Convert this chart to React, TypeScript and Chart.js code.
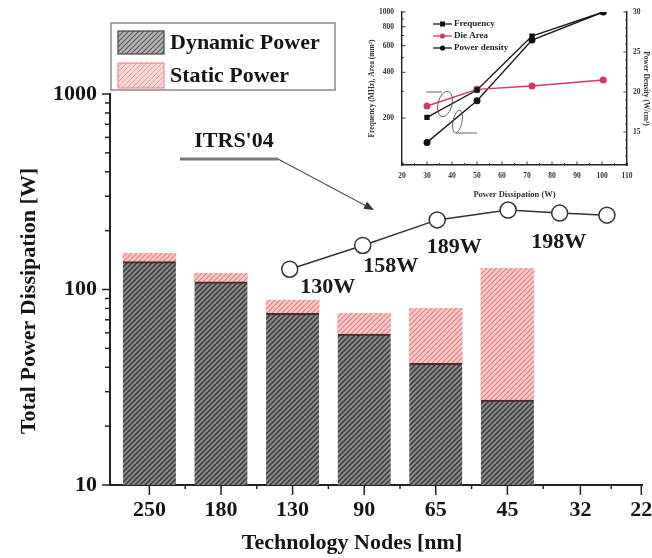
import React, { useEffect, useRef } from 'react';
import { Chart, registerables } from 'chart.js';

Chart.register(...registerables);

const FONT = '"Liberation Serif", "Times New Roman", serif';

// ---------- main chart data ----------
const nodeLabels = ['250', '180', '130', '90', '65', '45', '32', '22'];
const nodePositions = [0, 1, 2, 3, 4, 5, 6.02, 6.87];
const barNodePositions = [0, 1, 2, 3, 4, 5];
const dynamicPower = [138.8, 109.6, 75.5, 59.2, 41.9, 27.2];
const staticPower = [14.4, 11.4, 12.9, 16.3, 38.2, 101.1];
const itrsPositions = [1.96, 2.98, 4.02, 5.01, 5.73, 6.39];
const itrsPower = [127, 168, 227, 255, 246, 240];
const itrsLabels = ['130W', '158W', '189W', '198W'];
const itrsLabelPoints = [0, 1, 2, 4];
const yTickValues = [10, 100, 1000];
const yMinorTicks = [20, 30, 40, 50, 60, 70, 80, 90, 200, 300, 400, 500, 600, 700, 800, 900];
const xMinorTicks = [0.5, 1.5, 2.5, 3.5, 4.5, 5.5, 6.45];

// ---------- inset data ----------
const insetPowerW = [30, 50, 72, 100.5];
const insetFrequency = [202, 306, 694, 1000];
const insetDieArea = [240, 309, 325, 356];
const insetPowerDensity = [13.7, 18.9, 26.5, 30];
const insetXTicks = [20, 30, 40, 50, 60, 70, 80, 90, 100, 110];
const insetXMinor = [25, 35, 45, 55, 65, 75, 85, 95, 105];
const insetLeftTicks = [200, 400, 600, 800, 1000];
const insetLeftMinor = [100, 300, 500, 700, 900];
const insetRightTicks = [15, 20, 25, 30];
const insetRightMinor = [11, 12, 13, 14, 16, 17, 18, 19, 21, 22, 23, 24, 26, 27, 28, 29];

// label offsets (style, relative to their data points)
const itrsLabelOffsets = [[38, 18], [28, 21], [17, 27], [-1, 29]];

function makeHatch(ctx: CanvasRenderingContext2D, bg: string, fg: string, size: number, lw: number) {
  const c = document.createElement('canvas');
  c.width = size;
  c.height = size;
  const g = c.getContext('2d') as CanvasRenderingContext2D;
  g.fillStyle = bg;
  g.fillRect(0, 0, size, size);
  g.strokeStyle = fg;
  g.lineWidth = lw;
  g.beginPath();
  g.moveTo(-1, size + 1);
  g.lineTo(size + 1, -1);
  g.moveTo(-1, 1);
  g.lineTo(1, -1);
  g.moveTo(size - 1, size + 1);
  g.lineTo(size + 1, size - 1);
  g.stroke();
  return ctx.createPattern(c, 'repeat') as CanvasPattern;
}

const tickMarks = {
  id: 'tickMarks',
  afterDraw(chart: any, _args: any, opts: any) {
    const ctx = chart.ctx;
    (opts.axes || []).forEach((a: any) => {
      const s = chart.scales[a.id];
      if (!s) return;
      ctx.save();
      ctx.strokeStyle = a.color || '#222';
      ctx.lineWidth = a.width || 1.2;
      const draw = (v: number, len: number) => {
        const p = s.getPixelForValue(v);
        ctx.beginPath();
        if (s.position === 'left') {
          const x0 = s.right;
          ctx.moveTo(x0, p);
          ctx.lineTo(x0 + (a.inward ? len : -len), p);
        } else if (s.position === 'right') {
          const x0 = s.left;
          ctx.moveTo(x0, p);
          ctx.lineTo(x0 + (a.inward ? -len : len), p);
        } else {
          const y0 = s.top;
          ctx.moveTo(p, y0);
          ctx.lineTo(p, y0 + (a.inward ? -len : len));
        }
        ctx.stroke();
      };
      (a.major || []).forEach((v: number) => draw(v, a.majorLen));
      (a.minor || []).forEach((v: number) => draw(v, a.minorLen));
      ctx.restore();
    });
  },
};

export default function App() {
  const mainRef = useRef<HTMLCanvasElement>(null);
  const insetRef = useRef<HTMLCanvasElement>(null);

  useEffect(() => {
    const mctx = (mainRef.current as HTMLCanvasElement).getContext('2d') as CanvasRenderingContext2D;
    const dynPat = makeHatch(mctx, '#8a8a8a', '#353535', 5, 1.4);
    const staPat = makeHatch(mctx, '#fbcaca', '#e37c7c', 5, 1.1);
    const dynLegendPat = makeHatch(mctx, '#b5b5b5', '#555555', 5, 1.1);
    const staLegendPat = makeHatch(mctx, '#fdd8d8', '#ec9696', 5, 1.0);

    const decor = {
      id: 'decor',
      afterDraw(chart: any) {
        const c = chart.ctx;
        c.save();
        // legend box
        c.fillStyle = '#ffffff';
        c.fillRect(111, 23, 224, 67);
        c.strokeStyle = '#8a8a8a';
        c.lineWidth = 1.5;
        c.strokeRect(111, 23, 224, 67);
        c.fillStyle = dynLegendPat;
        c.fillRect(118, 31, 46, 23);
        c.strokeStyle = '#444';
        c.lineWidth = 1.2;
        c.strokeRect(118, 31, 46, 23);
        c.fillStyle = staLegendPat;
        c.fillRect(118, 63, 46, 25);
        c.strokeStyle = '#ef8c8c';
        c.strokeRect(118, 63, 46, 25);
        c.fillStyle = '#151515';
        c.font = `bold 22px ${FONT}`;
        c.textAlign = 'left';
        c.textBaseline = 'middle';
        c.fillText(chart.data.datasets[0].label, 170, 43);
        c.fillText(chart.data.datasets[1].label, 170, 76);

        // ITRS annotation
        c.textAlign = 'center';
        c.fillText(chart.data.datasets[2].label, 234, 141);
        c.strokeStyle = '#7a7a7a';
        c.lineWidth = 3;
        c.beginPath();
        c.moveTo(180, 159);
        c.lineTo(278, 159);
        c.stroke();
        c.strokeStyle = '#555';
        c.lineWidth = 1.3;
        c.beginPath();
        c.moveTo(278, 159);
        c.lineTo(370, 208);
        c.stroke();
        const ang = Math.atan2(208 - 159, 370 - 278);
        const tx = 374, ty = 210;
        c.fillStyle = '#333';
        c.beginPath();
        c.moveTo(tx, ty);
        c.lineTo(tx - 10 * Math.cos(ang) + 4 * Math.sin(ang), ty - 10 * Math.sin(ang) - 4 * Math.cos(ang));
        c.lineTo(tx - 10 * Math.cos(ang) - 4 * Math.sin(ang), ty - 10 * Math.sin(ang) + 4 * Math.cos(ang));
        c.closePath();
        c.fill();

        // value labels next to ITRS points
        const meta = chart.getDatasetMeta(2);
        c.fillStyle = '#1a1a1a';
        c.font = `bold 22px ${FONT}`;
        itrsLabels.forEach((t, i) => {
          const pt = meta.data[itrsLabelPoints[i]];
          if (!pt) return;
          c.fillText(t, pt.x + itrsLabelOffsets[i][0], pt.y + itrsLabelOffsets[i][1]);
        });

        // axis titles
        c.fillStyle = '#151515';
        c.fillText('Technology Nodes [nm]', 352, 543);
        c.translate(29, 301);
        c.rotate(-Math.PI / 2);
        c.fillText('Total Power Dissipation [W]', 0, 0);
        c.restore();
      },
    };

    const main = new Chart(mainRef.current as HTMLCanvasElement, {
      type: 'bar',
      data: {
        datasets: [
          {
            label: 'Dynamic Power',
            data: barNodePositions.map((x, i) => ({ x, y: dynamicPower[i] })),
            backgroundColor: dynPat,
            borderColor: '#4a2b2b',
            borderWidth: { top: 2, left: 0, right: 0, bottom: 0 },
            borderSkipped: false,
            barThickness: 53,
            stack: 'power',
            order: 2,
          },
          {
            label: 'Static Power',
            data: barNodePositions.map((x, i) => ({ x, y: staticPower[i] })),
            backgroundColor: staPat,
            borderWidth: 0,
            barThickness: 53,
            stack: 'power',
            order: 2,
          },
          {
            type: 'line',
            label: "ITRS'04",
            data: itrsPositions.map((x, i) => ({ x, y: itrsPower[i] })),
            borderColor: '#333',
            borderWidth: 1.5,
            pointRadius: 8,
            pointBackgroundColor: '#fff',
            pointBorderColor: '#333',
            pointBorderWidth: 1.5,
            stack: 'itrs',
            order: 0,
          },
        ],
      } as any,
      options: {
        responsive: false,
        animation: false,
        devicePixelRatio: 1,
        layout: { padding: { top: 94, right: 8, left: 0, bottom: 0 } },
        plugins: {
          legend: { display: false },
          tooltip: { enabled: false },
          tickMarks: {
            axes: [
              { id: 'y', major: yTickValues, minor: yMinorTicks, majorLen: 8, minorLen: 5, width: 1.5, inward: false },
              { id: 'x', major: nodePositions, minor: xMinorTicks, majorLen: 10, minorLen: 4, width: 1.5, inward: false },
            ],
          },
        } as any,
        scales: {
          x: {
            type: 'linear',
            min: -0.55,
            max: 6.887,
            offset: false,
            stacked: true,
            afterBuildTicks: (s: any) => {
              s.ticks = nodePositions.map((v) => ({ value: v }));
            },
            afterFit: (s: any) => {
              s.height = 73;
              s.paddingLeft = 0;
              s.paddingRight = 0;
            },
            ticks: {
              autoSkip: false,
              maxRotation: 0,
              callback: (_v: any, i: number) => nodeLabels[i],
              font: { family: FONT, size: 22, weight: 'bold' },
              color: '#151515',
              padding: 12,
            },
            grid: { display: true, drawOnChartArea: false, drawTicks: false, offset: false },
            border: { display: true, color: '#222', width: 2 },
          },
          y: {
            type: 'logarithmic',
            min: 10,
            max: 1000,
            stacked: true,
            afterBuildTicks: (s: any) => {
              s.ticks = yTickValues.map((v) => ({ value: v, major: true }));
            },
            afterFit: (s: any) => {
              s.width = 110;
              s.paddingTop = 0;
              s.paddingBottom = 0;
            },
            ticks: {
              autoSkip: false,
              callback: (v: any) => String(v),
              font: { family: FONT, size: 22, weight: 'bold' },
              color: '#151515',
              padding: 13,
            },
            grid: { display: true, drawOnChartArea: false, drawTicks: false },
            border: { display: true, color: '#222', width: 2 },
          },
        } as any,
      },
      plugins: [tickMarks, decor],
    } as any);

    // ---------- inset ----------
    const insetDecor = {
      id: 'insetDecor',
      afterDraw(chart: any) {
        const c = chart.ctx;
        c.save();
        chart.data.datasets.forEach((ds: any, i: number) => {
          const y = 24 + i * 12;
          c.strokeStyle = ds.borderColor;
          c.lineWidth = 1.3;
          c.beginPath();
          c.moveTo(67, y);
          c.lineTo(86, y);
          c.stroke();
          c.fillStyle = ds.pointBackgroundColor;
          c.beginPath();
          if (ds.pointStyle === 'rect') c.rect(74, y - 2.5, 5, 5);
          else c.arc(76.5, y, 2.6, 0, Math.PI * 2);
          c.fill();
          c.fillStyle = '#222';
          c.font = `bold 9px ${FONT}`;
          c.textAlign = 'left';
          c.textBaseline = 'middle';
          c.fillText(ds.label, 88, y);
        });
        // pointer ellipses
        c.strokeStyle = '#555';
        c.lineWidth = 0.9;
        c.beginPath();
        c.ellipse(79, 104, 7, 13, 0.25, 0, Math.PI * 2);
        c.stroke();
        c.beginPath();
        c.moveTo(60, 92);
        c.lineTo(76, 92);
        c.stroke();
        c.beginPath();
        c.ellipse(91.5, 121.5, 4.5, 11.5, 0.2, 0, Math.PI * 2);
        c.stroke();
        c.beginPath();
        c.moveTo(90, 133);
        c.lineTo(111, 133);
        c.stroke();
        c.restore();
      },
    };

    const smallTick = { family: FONT, size: 7.5, weight: 'bold' };
    const inset = new Chart(insetRef.current as HTMLCanvasElement, {
      type: 'line',
      data: {
        datasets: [
          {
            label: 'Frequency',
            data: insetPowerW.map((x, i) => ({ x, y: insetFrequency[i] })),
            yAxisID: 'y',
            borderColor: '#1a1a1a',
            borderWidth: 1.4,
            pointStyle: 'rect',
            pointRadius: 2.8,
            pointBackgroundColor: '#111',
            pointBorderColor: '#111',
          },
          {
            label: 'Die Area',
            data: insetPowerW.map((x, i) => ({ x, y: insetDieArea[i] })),
            yAxisID: 'y',
            borderColor: '#d8365a',
            borderWidth: 1.4,
            pointStyle: 'circle',
            pointRadius: 2.8,
            pointBackgroundColor: '#d8365a',
            pointBorderColor: '#d8365a',
          },
          {
            label: 'Power density',
            data: insetPowerW.map((x, i) => ({ x, y: insetPowerDensity[i] })),
            yAxisID: 'y1',
            borderColor: '#1a1a1a',
            borderWidth: 1.4,
            pointStyle: 'circle',
            pointRadius: 2.8,
            pointBackgroundColor: '#111',
            pointBorderColor: '#111',
          },
        ],
      } as any,
      options: {
        responsive: false,
        animation: false,
        devicePixelRatio: 1,
        layout: { padding: { top: 12, right: 0, left: 0, bottom: 0 } },
        plugins: {
          legend: { display: false },
          tooltip: { enabled: false },
          tickMarks: {
            axes: [
              { id: 'x', major: insetXTicks, minor: insetXMinor, majorLen: 3.5, minorLen: 2, width: 0.9, inward: true },
              { id: 'y', major: insetLeftTicks, minor: insetLeftMinor, majorLen: 3.5, minorLen: 2, width: 0.9, inward: true },
              { id: 'y1', major: insetRightTicks, minor: insetRightMinor, majorLen: 3.5, minorLen: 2, width: 0.9, inward: true },
            ],
          },
        } as any,
        scales: {
          x: {
            type: 'linear',
            min: 20,
            max: 110,
            afterBuildTicks: (s: any) => {
              s.ticks = insetXTicks.map((v) => ({ value: v }));
            },
            afterFit: (s: any) => {
              s.height = 35;
              s.paddingLeft = 0;
              s.paddingRight = 0;
            },
            ticks: { autoSkip: false, maxRotation: 0, font: smallTick, color: '#333', padding: 7 },
            grid: { display: true, drawOnChartArea: false, drawTicks: false },
            border: { display: true, color: '#222', width: 1.4 },
            title: {
              display: true,
              text: 'Power Dissipation (W)',
              font: { family: FONT, size: 8.5, weight: 'bold' },
              color: '#333',
              padding: { top: 3, bottom: 0 },
            },
          },
          y: {
            type: 'logarithmic',
            position: 'left',
            min: 98,
            max: 1000,
            afterBuildTicks: (s: any) => {
              s.ticks = insetLeftTicks.map((v) => ({ value: v }));
            },
            afterFit: (s: any) => {
              s.width = 36;
              s.paddingTop = 0;
              s.paddingBottom = 0;
            },
            ticks: { autoSkip: false, callback: (v: any) => String(v), font: smallTick, color: '#333', padding: 8 },
            grid: { display: true, drawOnChartArea: false, drawTicks: false },
            border: { display: true, color: '#222', width: 1.4 },
            title: {
              display: true,
              text: 'Frequency (MHz), Area (mm²)',
              font: { family: FONT, size: 7.5, weight: 'bold' },
              color: '#333',
              padding: { top: 2, bottom: 0 },
            },
          },
          y1: {
            type: 'linear',
            position: 'right',
            min: 10.875,
            max: 30,
            afterBuildTicks: (s: any) => {
              s.ticks = insetRightTicks.map((v) => ({ value: v }));
            },
            afterFit: (s: any) => {
              s.width = 25;
              s.paddingTop = 0;
              s.paddingBottom = 0;
            },
            ticks: { autoSkip: false, font: smallTick, color: '#333', padding: 6 },
            grid: { display: true, drawOnChartArea: false, drawTicks: false },
            border: { display: true, color: '#222', width: 1.4 },
            title: {
              display: true,
              text: 'Power Density (W/cm²)',
              font: { family: FONT, size: 7.5, weight: 'bold' },
              color: '#333',
              padding: { top: 2, bottom: 0 },
            },
          },
        } as any,
      },
      plugins: [tickMarks, insetDecor],
    } as any);

    return () => {
      main.destroy();
      inset.destroy();
    };
  }, []);

  return (
    <div style={{ position: 'absolute', left: 0, top: 0, width: 652, height: 558, background: '#fff', overflow: 'hidden' }}>
      <canvas ref={mainRef} width={652} height={558} style={{ position: 'absolute', left: 0, top: 0 }} />
      <canvas ref={insetRef} width={286} height={200} style={{ position: 'absolute', left: 366, top: 0 }} />
    </div>
  );
}
